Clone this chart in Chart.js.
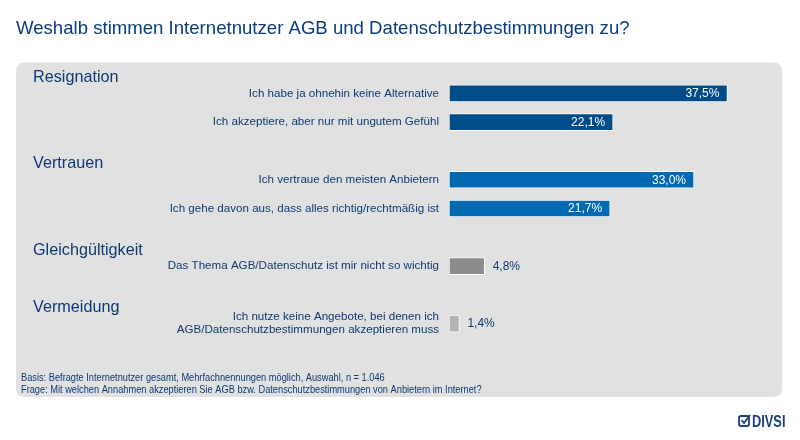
<!DOCTYPE html>
<html>
<head>
<meta charset="utf-8">
<script src="https://cdn.jsdelivr.net/npm/chart.js@4.4.1/dist/chart.umd.min.js"></script>
<style>
  html, body { margin: 0; padding: 0; background: #fff; }
  #wrap { width: 800px; height: 440px; }
</style>
</head>
<body>
<div id="wrap"><canvas id="chart"></canvas></div>
<script>
// rows of the chart, empty rows are the gaps between the groups
const categories = [
  'Ich habe ja ohnehin keine Alternative',
  'Ich akzeptiere, aber nur mit ungutem Gefühl',
  '',
  'Ich vertraue den meisten Anbietern',
  'Ich gehe davon aus, dass alles richtig/rechtmäßig ist',
  '',
  'Das Thema AGB/Datenschutz ist mir nicht so wichtig',
  '',
  ['Ich nutze keine Angebote, bei denen ich', 'AGB/Datenschutzbestimmungen akzeptieren muss']
];
const values = [37.5, 22.1, null, 33.0, 21.7, null, 4.8, null, 1.4];
const barColors = ['#004c89', '#004c89', null, '#0069b1', '#0069b1', null, '#8c8c8c', null, '#b3b3b3'];

const groupHeadings = ['Resignation', 'Vertrauen', 'Gleichgültigkeit', 'Vermeidung'];
const groupFirstRow = [0, 3, 6, 8];

const titleText = 'Weshalb stimmen Internetnutzer AGB und Datenschutzbestimmungen zu?';
const footnotes = [
  'Basis: Befragte Internetnutzer gesamt, Mehrfachnennungen möglich, Auswahl, n = 1.046',
  'Frage: Mit welchen Annahmen akzeptieren Sie AGB bzw. Datenschutzbestimmungen von Anbietern im Internet?'
];

const textBlue = '#0d3a73';
const fontFam = '"Liberation Sans", Arial, sans-serif';

function roundRect(ctx, x, y, w, h, r) {
  ctx.beginPath();
  ctx.moveTo(x + r, y);
  ctx.lineTo(x + w - r, y);
  ctx.quadraticCurveTo(x + w, y, x + w, y + r);
  ctx.lineTo(x + w, y + h - r);
  ctx.quadraticCurveTo(x + w, y + h, x + w - r, y + h);
  ctx.lineTo(x + r, y + h);
  ctx.quadraticCurveTo(x, y + h, x, y + h - r);
  ctx.lineTo(x, y + r);
  ctx.quadraticCurveTo(x, y, x + r, y);
  ctx.closePath();
}

// narrow text, the source uses a condensed face
function narrowText(ctx, txt, x, y, sx) {
  ctx.save();
  ctx.translate(x, y);
  ctx.scale(sx, 1);
  ctx.fillText(txt, 0, 0);
  ctx.restore();
}

// background panel, title, headings, footnotes, logo
const decorPlugin = {
  id: 'decor',
  beforeDraw(chart) {
    const ctx = chart.ctx;
    ctx.save();
    ctx.fillStyle = '#fff';
    ctx.fillRect(0, 0, chart.width, chart.height);
    ctx.fillStyle = '#e1e1e1';
    roundRect(ctx, 16, 62.5, 766, 334.5, 9);
    ctx.fill();

    ctx.fillStyle = '#0b3c7c';
    ctx.font = '18.6px ' + fontFam;
    ctx.textBaseline = 'alphabetic';
    ctx.fillText(titleText, 16, 34);

    ctx.fillStyle = textBlue;
    ctx.font = '10.4px ' + fontFam;
    narrowText(ctx, footnotes[0], 21, 381, 0.89);
    narrowText(ctx, footnotes[1], 21, 393, 0.89);

    // logo
    ctx.strokeStyle = '#1d3f7a';
    ctx.lineWidth = 1.8;
    roundRect(ctx, 739, 416, 10, 10, 2);
    ctx.stroke();
    ctx.beginPath();
    ctx.moveTo(741.5, 420);
    ctx.lineTo(744, 423);
    ctx.lineTo(750, 415);
    ctx.stroke();
    ctx.fillStyle = '#1d3f7a';
    ctx.font = 'bold 16px ' + fontFam;
    narrowText(ctx, 'DIVSI', 752, 427, 0.8);
    ctx.restore();
  },
  afterDraw(chart) {
    const ctx = chart.ctx;
    const yScale = chart.scales.y;
    ctx.save();
    ctx.fillStyle = textBlue;
    ctx.font = '16.2px ' + fontFam;
    ctx.textBaseline = 'middle';
    groupHeadings.forEach((h, i) => {
      const y = yScale.getPixelForValue(groupFirstRow[i]) - 16;
      ctx.fillText(h, 33, y);
    });
    ctx.restore();
  }
};

// value labels: inside for long bars, outside for short ones
const valuePlugin = {
  id: 'values',
  afterDatasetsDraw(chart) {
    const ctx = chart.ctx;
    const meta = chart.getDatasetMeta(0);
    ctx.save();
    ctx.font = '12px ' + fontFam;
    ctx.textBaseline = 'middle';
    meta.data.forEach((bar, i) => {
      const v = values[i];
      if (v === null) return;
      const txt = v.toFixed(1).replace('.', ',') + '%';
      if (v > 10) {
        ctx.fillStyle = '#fff';
        ctx.textAlign = 'right';
        ctx.fillText(txt, bar.x - 8, bar.y + 0.5);
      } else {
        ctx.fillStyle = textBlue;
        ctx.textAlign = 'left';
        ctx.fillText(txt, bar.x + 8, bar.y + 0.5);
      }
    });
    ctx.restore();
  }
};

new Chart(document.getElementById('chart'), {
  type: 'bar',
  data: {
    labels: categories,
    datasets: [{
      data: values,
      backgroundColor: barColors,
      borderColor: '#ffffff',
      borderWidth: 1,
      borderSkipped: false,
      barThickness: 17
    }]
  },
  options: {
    indexAxis: 'y',
    responsive: true,
    maintainAspectRatio: false,
    animation: false,
    layout: { padding: { top: 79, bottom: 102, left: 0, right: 54 } },
    plugins: {
      legend: { display: false },
      tooltip: { enabled: false }
    },
    scales: {
      x: {
        display: false,
        min: 0,
        max: 40
      },
      y: {
        grid: { display: false, drawTicks: false },
        border: { display: false },
        afterFit: (scale) => { scale.width = 449; },
        ticks: {
          color: textBlue,
          padding: 10,
          autoSkip: false,
          font: { family: fontFam, size: 11.6, lineHeight: 1.1 }
        }
      }
    }
  },
  plugins: [decorPlugin, valuePlugin]
});
</script>
</body>
</html>
